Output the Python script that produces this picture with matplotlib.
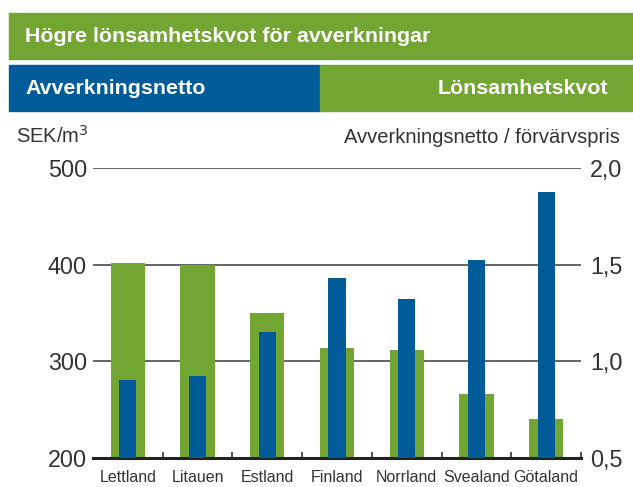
import matplotlib.pyplot as plt
from matplotlib.patches import Rectangle
import numpy as np

plt.rcParams['font.family'] = ['Liberation Sans', 'DejaVu Sans']

omraden = ["Lettland", "Litauen", "Estland", "Finland", "Norrland", "Svealand", "Götaland"]
avverkningsnetto = [281, 285, 330, 386, 365, 405, 476]   # SEK/m3, vänster axel
lonsamhetskvot = [1.51, 1.50, 1.25, 1.07, 1.06, 0.83, 0.70]  # höger axel

gron = "#73a533"
bla = "#005c99"
text_farg = "#333333"

W, H = 633, 487
fig = plt.figure(figsize=(W / 100, H / 100), dpi=100)

# rubrikfält
def px_rect(x0, y0, x1, y1, farg):
    fig.patches.append(Rectangle((x0 / W, 1 - y1 / H), (x1 - x0) / W, (y1 - y0) / H,
                                 transform=fig.transFigure, color=farg, zorder=0))

px_rect(9, 13, 633, 59, gron)
px_rect(9, 65, 320, 111, bla)
px_rect(320, 65, 633, 111, gron)

fig.text(25 / W, 1 - 36 / H, "Högre lönsamhetskvot för avverkningar", color="white",
         fontsize=15.4, fontweight="bold", va="center", ha="left")
fig.text(25 / W, 1 - 88 / H, "Avverkningsnetto", color="white",
         fontsize=15.4, fontweight="bold", va="center", ha="left")
fig.text(608 / W, 1 - 88 / H, "Lönsamhetskvot", color="white",
         fontsize=15.4, fontweight="bold", va="center", ha="right")

fig.text(16 / W, 1 - 143 / H, "SEK/m$^3$", color=text_farg, fontsize=14.5, va="baseline", ha="left")
fig.text(620 / W, 1 - 143 / H, "Avverkningsnetto / förvärvspris", color=text_farg,
         fontsize=14.5, va="baseline", ha="right")

# diagram
ax = fig.add_axes([93 / W, 1 - 457.7 / H, (581 - 93) / W, (457.7 - 168.5) / H])
ax2 = ax.twinx()
ax.set_zorder(ax2.get_zorder() + 1)
ax.patch.set_visible(False)

x = np.arange(len(omraden))
ax2.bar(x, lonsamhetskvot, width=0.49, color=gron, zorder=2)
ax.bar(x, avverkningsnetto, width=0.245, color=bla, zorder=3)

ax.set_xlim(-0.5, 6.5)
ax.set_ylim(200, 500)
ax2.set_ylim(0.5, 2.0)
ax.set_yticks([200, 300, 400, 500])
ax2.set_yticks([0.5, 1.0, 1.5, 2.0])
ax2.set_yticklabels(["0,5", "1,0", "1,5", "2,0"])

ax2.set_axisbelow(True)
ax2.yaxis.grid(True, color="#3a3a3a", linewidth=1.1)

for a in (ax, ax2):
    for s in a.spines.values():
        s.set_visible(False)
ax.spines["bottom"].set_visible(True)
ax.spines["bottom"].set_linewidth(2.2)
ax.spines["bottom"].set_color("#222222")

ax.set_xticks(x)
ax.set_xticklabels(omraden)
ax.tick_params(axis="x", length=0, pad=9, labelsize=11.5, labelcolor=text_farg)
ax.set_xticks(np.arange(0.5, 7, 1), minor=True)
ax.tick_params(axis="x", which="minor", direction="in", length=4.5, width=1.2, color="#333333")
ax.tick_params(axis="y", length=0, pad=4.3, labelsize=16.8, labelcolor=text_farg)
ax2.tick_params(axis="y", length=0, pad=6.5, labelsize=16.8, labelcolor=text_farg)

fig.savefig("out.png", dpi=100)
